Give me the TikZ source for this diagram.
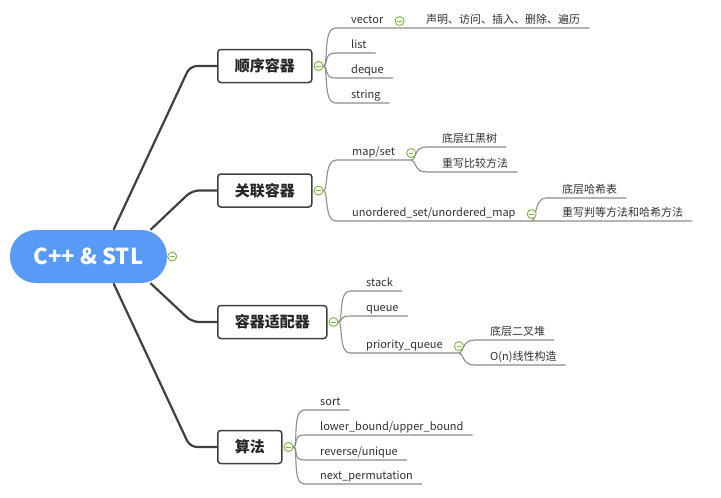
\documentclass[tikz,border=0pt]{standalone}
\usepackage{fontspec}
\setmainfont{Noto Sans CJK SC}
\usetikzlibrary{calc,positioning}
\definecolor{rootBlue}{RGB}{88,154,248}
\definecolor{trunkGray}{RGB}{64,64,64}
\definecolor{twigGray}{RGB}{140,140,140}
\definecolor{foldGreen}{RGB}{120,184,60}
\definecolor{txtGray}{RGB}{48,48,48}
\pgfdeclarelayer{bg}
\pgfsetlayers{bg,main}

\begin{document}
\begin{tikzpicture}[x=1pt,y=-1pt,
  rootnode/.style={fill=rootBlue, rounded corners=26pt, minimum width=157pt, minimum height=53pt,
    text=white, font=\fontsize{22}{26}\selectfont\bfseries},
  topic/.style={draw=trunkGray, line width=1.5pt, fill=white, rounded corners=3pt, anchor=west,
    minimum height=33pt, inner xsep=17pt, text=black!85, font=\fontsize{15}{18}\selectfont\bfseries},
  leaf/.style={anchor=south west, inner xsep=0pt, inner ysep=1.5pt, text height=8pt, text depth=2.5pt,
    text=txtGray, font=\fontsize{11}{13}\selectfont},
  fold/.style={circle, draw=foldGreen, fill=white, line width=0.9pt, minimum size=9pt, inner sep=0pt,
    path picture={\draw[foldGreen, line width=0.9pt] ([xshift=-2.3pt]path picture bounding box.center)
      -- ([xshift=2.3pt]path picture bounding box.center);}},
  trunk/.style={draw=trunkGray, line width=2.2pt, rounded corners=7pt},
  twig/.style={draw=twigGray, line width=1.1pt}]
\useasboundingbox (0,0) rectangle (721,498);

% central topic and main branches
\node[rootnode] (root) at (88.5,256.5) {C++ \& STL};
\node[fold] (i0) at ([xshift=5pt]root.east) {};
\node[topic] (b1) at (217,66) {顺序容器};
\node[topic] (b2) at (217,190.5) {关联容器};
\node[topic] (b3) at (217,322) {容器适配器};
\node[topic] (b4) at (217,447) {算法};
\foreach \b in {1,...,4}
  \node[fold] (i\b) at ([xshift=6pt]b\b.east) {};

% sequence containers
\node[leaf] (lv) at (351,28) {vector};
\node[leaf] (cv) at (426,28) {声明、访问、插入、删除、遍历};
\node[leaf] (ll) at (351,53) {list};
\node[leaf] (ld) at (351,78) {deque};
\node[leaf] (ls) at (351,103) {string};
\node[fold] (iv) at ([xshift=16pt]lv.east) {};

% associative containers
\node[leaf] (lm) at (352,160) {map/set};
\node[leaf] (cm1) at (442,147) {底层红黑树};
\node[leaf] (cm2) at (442,172) {重写比较方法};
\node[leaf] (lu) at (352,221) {unordered\_set/unordered\_map};
\node[leaf] (cu1) at (562,198) {底层哈希表};
\node[leaf] (cu2) at (562,221) {重写判等方法和哈希方法};
\node[fold] (im) at ([xshift=16pt]lm.east) {};
\node[fold] (iu) at ([xshift=16pt]lu.east) {};

% adaptors
\node[leaf] (lst) at (366,291) {stack};
\node[leaf] (lq) at (366,316) {queue};
\node[leaf] (lp) at (366,353) {priority\_queue};
\node[leaf] (cp1) at (490,340) {底层二叉堆};
\node[leaf] (cp2) at (490,365) {O(n)线性构造};
\node[fold] (ip) at ([xshift=16pt]lp.east) {};

% algorithms
\node[leaf] (la1) at (320,410) {sort};
\node[leaf] (la2) at (320,435) {lower\_bound/upper\_bound};
\node[leaf] (la3) at (320,460) {reverse/unique};
\node[leaf] (la4) at (320,484) {next\_permutation};

\begin{pgfonlayer}{bg}
\draw[trunk] ([xshift=25pt]root.north) -- ([xshift=-27pt]b1.west) -- (b1.west);
\draw[trunk] ([xshift=62pt]root.north) -- ([xshift=-25pt]b2.west) -- (b2.west);
\draw[trunk] ([xshift=62pt]root.south) -- ([xshift=-25pt]b3.west) -- (b3.west);
\draw[trunk] ([xshift=25pt]root.south) -- ([xshift=-27pt]b4.west) -- (b4.west);

\draw[twig] (i1.east) .. controls +(5,0) and +(-12,0) .. ([xshift=-16pt]lv.south west) -- ([xshift=9pt]cv.south east);
\foreach \n in {ll,ld,ls}
  \draw[twig] (i1.east) .. controls +(5,0) and +(-12,0) .. ([xshift=-16pt]\n.south west) -- ([xshift=9pt]\n.south east);

\draw[twig] (i2.east) .. controls +(5,0) and +(-12,0) .. ([xshift=-16pt]lm.south west) -- (im |- lm.south);
\draw[twig] (i2.east) .. controls +(5,0) and +(-12,0) .. ([xshift=-16pt]lu.south west) -- ([xshift=9pt]cu2.south east);
\foreach \n in {cm1,cm2}
  \draw[twig] (im |- lm.south) .. controls +(5,0) and +(-12,0) .. ([xshift=-16pt]\n.south west) -- ([xshift=9pt]\n.south east);
\draw[twig] (iu |- lu.south) .. controls +(5,0) and +(-12,0) .. ([xshift=-16pt]cu1.south west) -- ([xshift=9pt]cu1.south east);

\foreach \n in {lst,lq}
  \draw[twig] (i3.east) .. controls +(5,0) and +(-12,0) .. ([xshift=-16pt]\n.south west) -- ([xshift=9pt]\n.south east);
\draw[twig] (i3.east) .. controls +(5,0) and +(-12,0) .. ([xshift=-16pt]lp.south west) -- (ip |- lp.south);
\foreach \n in {cp1,cp2}
  \draw[twig] (ip |- lp.south) .. controls +(5,0) and +(-12,0) .. ([xshift=-16pt]\n.south west) -- ([xshift=9pt]\n.south east);

\foreach \n in {la1,la2,la3,la4}
  \draw[twig] (i4.east) .. controls +(5,0) and +(-12,0) .. ([xshift=-16pt]\n.south west) -- ([xshift=9pt]\n.south east);
\end{pgfonlayer}
\end{tikzpicture}
\end{document}
